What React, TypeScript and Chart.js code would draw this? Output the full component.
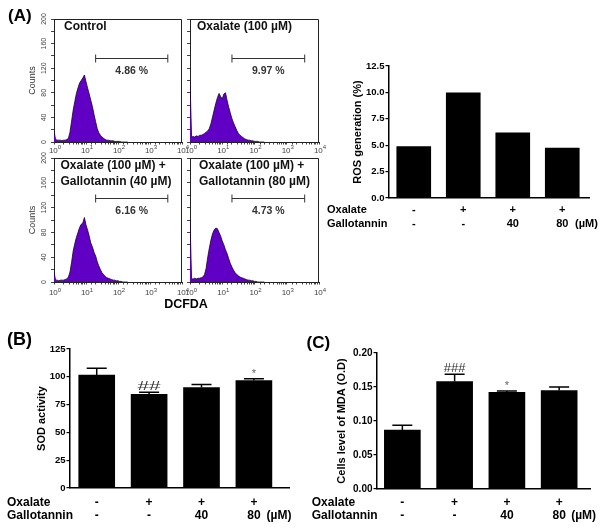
import React, { useEffect, useRef } from "react";
import { Chart, registerables } from "chart.js";
Chart.register(...registerables);

const FONT = "'Liberation Sans', Arial, Helvetica, sans-serif";
const PURPLE = "#6000c4";

// ---------- (A) flow cytometry histograms (DCFDA channel vs counts) ----------
const dcfdaChannels = [
  1.0, 1.12, 1.26, 1.41, 1.58, 1.78, 2.0, 2.24, 2.51, 2.82, 3.16, 3.55, 3.98, 4.47, 5.01, 5.62,
  6.31, 7.08, 7.94, 8.91, 10.0, 11.2, 12.6, 14.1, 15.8, 17.8, 20.0, 22.4, 25.1, 28.2, 31.6, 35.5,
  39.8, 44.7, 50.1, 56.2, 63.1, 70.8, 79.4, 89.1, 100, 112, 126, 141, 158, 178, 200,
];
const countsControl = [
  18, 4, 3, 3, 3, 2, 3, 3, 4, 6, 16, 34, 52, 66, 79, 88, 96, 100, 104, 109, 98, 88, 78, 68, 58, 45,
  33, 22, 15, 11, 8, 6, 4, 3, 3, 2, 2, 2, 1, 1, 1, 1, 0, 0, 0, 0, 0,
];
const countsOxalate = [
  100, 8, 9, 8, 10, 9, 11, 11, 12, 14, 16, 18, 22, 30, 41, 52, 63, 72, 79, 74, 70, 78, 80, 68, 57,
  47, 38, 31, 25, 19, 14, 11, 9, 7, 5, 4, 3, 3, 2, 2, 1, 1, 1, 0, 0, 0, 0,
];
const countsGal40 = [
  16, 3, 3, 2, 3, 3, 3, 4, 5, 8, 16, 32, 50, 62, 72, 80, 88, 93, 95, 104, 92, 84, 74, 63, 57, 48, 42,
  33, 26, 20, 15, 12, 9, 7, 6, 5, 4, 3, 3, 2, 2, 1, 1, 0, 0, 0, 0,
];
const countsGal80 = [
  100, 5, 5, 6, 5, 6, 6, 7, 8, 12, 22, 40, 55, 68, 78, 84, 87, 86, 80, 74, 66, 60, 52, 46, 38, 30,
  24, 19, 15, 12, 10, 8, 7, 6, 5, 4, 3, 3, 2, 2, 1, 1, 0, 0, 0, 0, 0,
];
const histTitles = [
  ["Control"],
  ["Oxalate (100 µM)"],
  ["Oxalate (100 µM) +", "Gallotannin (40 µM)"],
  ["Oxalate (100 µM) +", "Gallotannin (80 µM)"],
];
const gatePercents = ["4.86 %", "9.97 %", "6.16 %", "4.73 %"];
const gateRange = [20, 3600];
const gateCount = 136;
const countTicks = [0, 40, 80, 120, 160, 200];
const decadeExponents = [0, 1, 2, 3, 4];

// ---------- bar charts ----------
const rowNames = ["Oxalate", "Gallotannin"];
const oxalateRow = ["-", "+", "+", "+"];
const gallotanninRow = ["-", "-", "40", "80"];
const unitLabel = "(µM)";
const rosValues = [4.86, 9.97, 6.16, 4.73];
const sodValues = [101.5, 84.2, 90.3, 96.6];
const sodErrors = [6.1, 1.8, 2.8, 1.6];
const sodMarks = ["", "##", "", "*"];
const mdaValues = [0.0866, 0.158, 0.1423, 0.1447];
const mdaErrors = [0.0073, 0.0107, 0.002, 0.0053];
const mdaMarks = ["", "###", "*", ""];

const histPlugin = {
  id: "histDecor",
  afterDraw(chart: any, _args: any, o: any) {
    const { ctx, chartArea: a, scales } = chart;
    const xs = scales.x;
    const ys = scales.y;
    ctx.save();
    // frame (top + right)
    ctx.strokeStyle = "#222";
    ctx.lineWidth = 1;
    ctx.beginPath();
    ctx.moveTo(a.left, Math.round(a.top) + 0.5);
    ctx.lineTo(Math.round(a.right) - 0.5, Math.round(a.top) + 0.5);
    ctx.lineTo(Math.round(a.right) - 0.5, a.bottom);
    ctx.stroke();
    // titles
    ctx.fillStyle = "#111";
    ctx.font = `bold 12px ${FONT}`;
    ctx.textBaseline = "middle";
    ctx.textAlign = "left";
    o.title.forEach((t: string, i: number) => ctx.fillText(t, a.left + o.titleDx, a.top + 8 + i * 15.7));
    // gate bracket
    const x1 = xs.getPixelForValue(gateRange[0]);
    const x2 = xs.getPixelForValue(gateRange[1]);
    const yb = Math.round(ys.getPixelForValue(gateCount)) + 0.5;
    ctx.strokeStyle = "#333";
    ctx.beginPath();
    ctx.moveTo(x1, yb);
    ctx.lineTo(x2, yb);
    ctx.moveTo(x1, yb - 4);
    ctx.lineTo(x1, yb + 4);
    ctx.moveTo(x2, yb - 4);
    ctx.lineTo(x2, yb + 4);
    ctx.stroke();
    ctx.font = `bold 10.5px ${FONT}`;
    ctx.fillStyle = "#333";
    ctx.textAlign = "center";
    ctx.fillText(o.percent, (x1 + x2) / 2, yb + 12.5);
    // y tick labels (rotated) and axis title
    if (o.showY) {
      ctx.fillStyle = "#444";
      ctx.font = `7px ${FONT}`;
      countTicks.forEach((v) => {
        const py = ys.getPixelForValue(v);
        ctx.save();
        ctx.translate(a.left - 10, py);
        ctx.rotate(-Math.PI / 2);
        ctx.textAlign = "center";
        ctx.textBaseline = "middle";
        ctx.fillText(String(v), 0, 0);
        ctx.restore();
      });
      ctx.save();
      ctx.translate(a.left - 21, (a.top + a.bottom) / 2);
      ctx.rotate(-Math.PI / 2);
      ctx.font = `9px ${FONT}`;
      ctx.fillStyle = "#333";
      ctx.textAlign = "center";
      ctx.textBaseline = "middle";
      ctx.fillText("Counts", 0, 0);
      ctx.restore();
    }
    // x decade labels 10^n
    ctx.fillStyle = "#444";
    ctx.textAlign = "left";
    ctx.textBaseline = "alphabetic";
    decadeExponents.forEach((e) => {
      const px = xs.getPixelForValue(Math.pow(10, e));
      ctx.font = `8px ${FONT}`;
      const w1 = ctx.measureText("10").width;
      ctx.font = `6px ${FONT}`;
      const w2 = ctx.measureText(String(e)).width;
      const start = px - (w1 + w2) / 2 + 1;
      const base = a.bottom + o.labelDy;
      ctx.font = `8px ${FONT}`;
      ctx.fillText("10", start, base);
      ctx.font = `6px ${FONT}`;
      ctx.fillText(String(e), start + w1, base - 3.5);
    });
    ctx.restore();
  },
};

function histConfig(counts: number[], idx: number, showY: boolean, titleDx: number, labelDy: number) {
  return {
    type: "line",
    data: {
      datasets: [
        {
          data: dcfdaChannels.map((x, i) => ({ x, y: counts[i] })),
          fill: "origin",
          backgroundColor: PURPLE,
          borderColor: "#1a0030",
          borderWidth: 0.8,
          pointRadius: 0,
          tension: 0,
        },
      ],
    },
    options: {
      animation: false,
      responsive: false,
      events: [],
      layout: { padding: { top: 10, right: 12, left: 0, bottom: 0 } },
      plugins: {
        legend: { display: false },
        tooltip: { enabled: false },
        histDecor: { title: histTitles[idx], percent: gatePercents[idx], showY, titleDx, labelDy },
      },
      scales: {
        x: {
          type: "logarithmic",
          min: 1,
          max: 10000,
          afterFit: (s: any) => {
            s.height = 20;
          },
          ticks: { display: false, autoSkip: false },
          grid: { display: true, drawOnChartArea: false, tickLength: 2.5, color: "#444" },
          border: { color: "#222", width: 1 },
        },
        y: {
          type: "linear",
          min: 0,
          max: 200,
          afterFit: (s: any) => {
            s.width = 34;
          },
          ticks: { display: false, stepSize: 20 },
          grid: { display: true, drawOnChartArea: false, tickLength: 3, color: "#444" },
          border: { color: "#222", width: 1 },
        },
      },
    },
    plugins: [histPlugin],
  };
}

const barPlugin = {
  id: "barDecor",
  afterDraw(chart: any, _args: any, o: any) {
    const { ctx, chartArea: a, scales } = chart;
    const x = scales.x;
    const y = scales.y;
    ctx.save();
    if (o.errors) {
      ctx.strokeStyle = "#000";
      ctx.lineWidth = 1.5;
      o.values.forEach((v: number, i: number) => {
        const cx = x.getPixelForValue(i);
        const yt = y.getPixelForValue(v + o.errors[i]);
        const yv = y.getPixelForValue(v);
        ctx.beginPath();
        ctx.moveTo(cx, yv);
        ctx.lineTo(cx, yt);
        ctx.moveTo(cx - o.capHalf, yt);
        ctx.lineTo(cx + o.capHalf, yt);
        ctx.stroke();
      });
    }
    if (o.marks) {
      o.marks.forEach((m: string, i: number) => {
        if (!m) return;
        const cx = x.getPixelForValue(i);
        const yt = y.getPixelForValue(o.values[i] + o.errors[i]);
        const hash = m.charAt(0) === "#";
        ctx.save();
        ctx.translate(cx, yt - 2);
        ctx.scale(hash ? o.hashScale : 1, 1);
        ctx.font = hash ? `13px ${FONT}` : `11px ${FONT}`;
        ctx.fillStyle = hash ? "#333" : "#666";
        ctx.textAlign = "center";
        ctx.textBaseline = "alphabetic";
        ctx.fillText(m, 0, 0);
        ctx.restore();
      });
    }
    // y title
    ctx.save();
    ctx.translate(a.left - o.titleDx, (a.top + a.bottom) / 2);
    ctx.rotate(-Math.PI / 2);
    ctx.font = `bold 11px ${FONT}`;
    ctx.fillStyle = "#000";
    ctx.textAlign = "center";
    ctx.textBaseline = "middle";
    ctx.fillText(o.title, 0, 0);
    ctx.restore();
    // treatment rows
    ctx.font = `bold ${o.rowFont}px ${FONT}`;
    ctx.fillStyle = "#000";
    ctx.textBaseline = "middle";
    ctx.textAlign = "left";
    ctx.fillText(rowNames[0], o.rowX, a.bottom + o.rowDy[0]);
    ctx.fillText(rowNames[1], o.rowX, a.bottom + o.rowDy[1]);
    ctx.textAlign = "center";
    oxalateRow.forEach((s, i) => ctx.fillText(s, x.getPixelForValue(i), a.bottom + o.rowDy[0]));
    gallotanninRow.forEach((s, i) => ctx.fillText(s, x.getPixelForValue(i), a.bottom + o.rowDy[1]));
    ctx.textAlign = "left";
    ctx.fillText(unitLabel, x.getPixelForValue(3) + o.unitDx, a.bottom + o.rowDy[1]);
    ctx.restore();
  },
};

function barConfig(p: any) {
  return {
    type: "bar",
    data: {
      datasets: [
        {
          data: p.values.map((v: number, i: number) => ({ x: i, y: v })),
          backgroundColor: "#000",
          borderWidth: 0,
          barThickness: p.barW,
        },
      ],
    },
    options: {
      animation: false,
      responsive: false,
      events: [],
      layout: { padding: { top: 10, right: p.padRight, left: 0, bottom: 0 } },
      plugins: {
        legend: { display: false },
        tooltip: { enabled: false },
        barDecor: p,
      },
      scales: {
        x: {
          type: "linear",
          min: p.xMin,
          max: p.xMax,
          offset: false,
          afterFit: (s: any) => {
            s.height = p.xH;
          },
          ticks: { display: false },
          grid: { display: false },
          border: { display: true, color: "#000", width: 1.5 },
        },
        y: {
          type: "linear",
          min: 0,
          max: p.yMax,
          afterFit: (s: any) => {
            s.width = p.yW;
          },
          ticks: {
            stepSize: p.yStep,
            padding: 1,
            color: "#000",
            font: { family: FONT, size: p.tickFont, weight: "bold" },
            callback: (v: any) => Number(v).toFixed(p.decimals),
          },
          grid: { display: true, drawOnChartArea: false, tickLength: 3.5, color: "#000", lineWidth: 1.2 },
          border: { color: "#000", width: 1.5 },
        },
      },
    },
    plugins: [barPlugin],
  };
}

function ChartBox(props: any) {
  const ref = useRef<HTMLCanvasElement>(null);
  useEffect(() => {
    const chart = new Chart(ref.current as any, props.make() as any);
    return () => chart.destroy();
  }, []);
  return (
    <canvas
      ref={ref}
      width={props.w}
      height={props.h}
      style={{ position: "absolute", left: props.x, top: props.y, width: props.w, height: props.h, display: "block" }}
    />
  );
}

const labelStyle: any = { position: "absolute", fontFamily: FONT, fontWeight: "bold", lineHeight: 1, color: "#000", whiteSpace: "nowrap" };

export default function App() {
  return (
    <div style={{ position: "fixed", left: 0, top: 0, width: 604, height: 528, background: "#fff", overflow: "hidden" }}>
      <ChartBox x={20} y={9} w={174} h={153} make={() => histConfig(countsControl, 0, true, 10, 10.5)} />
      <ChartBox x={156} y={9} w={175} h={153} make={() => histConfig(countsOxalate, 1, false, 7, 10.5)} />
      <ChartBox x={20} y={148} w={174} h={154} make={() => histConfig(countsGal40, 2, true, 6.5, 13)} />
      <ChartBox x={156} y={148} w={175} h={154} make={() => histConfig(countsGal80, 3, false, 9, 13)} />

      <ChartBox
        x={316}
        y={56}
        w={288}
        h={179}
        make={() =>
          barConfig({
            values: rosValues, barW: 34, padRight: 15, xMin: -0.5, xMax: 3.54, xH: 37, yW: 73,
            yMax: 12.5, yStep: 2.5, decimals: 1, tickFont: 9.5, title: "ROS generation (%)", titleDx: 31,
            rowX: 11, rowDy: [12, 25.7], rowFont: 11, unitDx: 12.7,
          })
        }
      />
      <ChartBox
        x={0}
        y={339}
        w={300}
        h={189}
        make={() =>
          barConfig({
            values: sodValues, errors: sodErrors, marks: sodMarks, capHalf: 10, hashScale: 1.6,
            barW: 36, padRight: 11, xMin: -0.51, xMax: 3.67, xH: 40, yW: 70,
            yMax: 125, yStep: 25, decimals: 0, tickFont: 9.5, title: "SOD activity", titleDx: 28.3,
            rowX: 7, rowDy: [14.7, 27.7], rowFont: 12, unitDx: 12.7,
          })
        }
      />
      <ChartBox
        x={300}
        y={343}
        w={304}
        h={185}
        make={() =>
          barConfig({
            values: mdaValues, errors: mdaErrors, marks: mdaMarks, capHalf: 10, hashScale: 1.0,
            barW: 36, padRight: 14, xMin: -0.485, xMax: 3.59, xH: 39, yW: 77,
            yMax: 0.2, yStep: 0.05, decimals: 2, tickFont: 10, title: "Cells level of MDA (O.D)", titleDx: 34.7,
            rowX: 11.7, rowDy: [13.7, 26.7], rowFont: 12, unitDx: 12,
          })
        }
      />

      <div style={{ ...labelStyle, left: 8, top: 6.5, fontSize: 17 }}>(A)</div>
      <div style={{ ...labelStyle, left: 7, top: 330, fontSize: 18 }}>(B)</div>
      <div style={{ ...labelStyle, left: 306.5, top: 333.5, fontSize: 17 }}>(C)</div>
      <div style={{ ...labelStyle, left: 136, width: 100, textAlign: "center", top: 298, fontSize: 12.5 }}>DCFDA</div>
    </div>
  );
}
